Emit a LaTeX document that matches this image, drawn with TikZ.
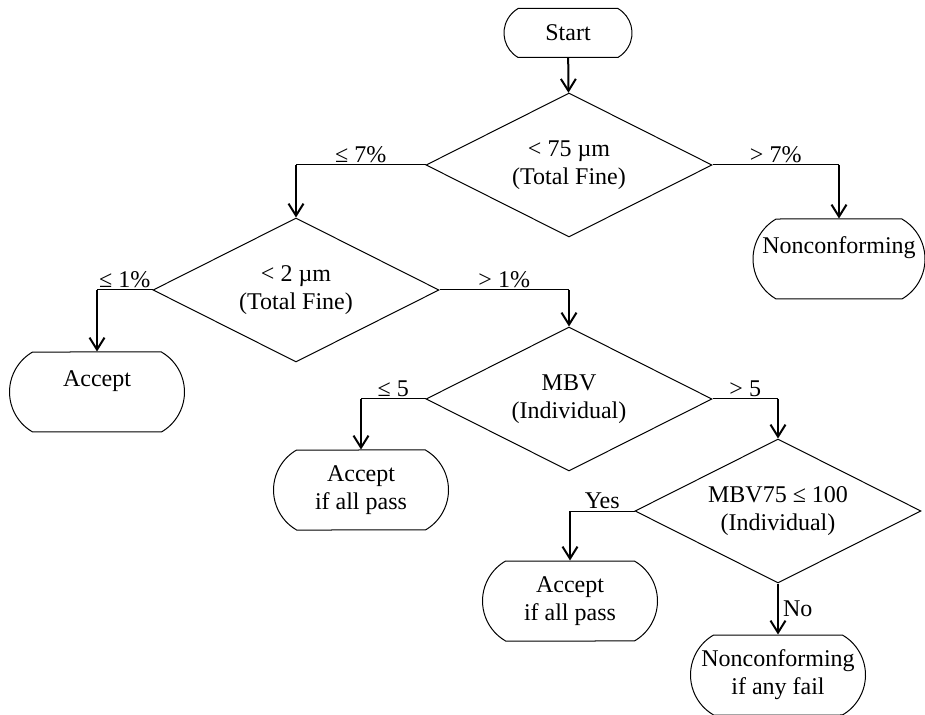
\documentclass[tikz,border=0pt]{standalone}
\usepackage{fontspec}
\setmainfont{Liberation Serif}
\usetikzlibrary{shapes.geometric}
\usetikzlibrary{shapes.misc}
\usetikzlibrary{arrows.meta}

\begin{document}
\begin{tikzpicture}
[x=0.5pt,y=-0.5pt,%
  every node/.style={font=\fontsize{12}{14}\selectfont},%
  decision/.style={shape=diamond,draw,line width=0.5pt,align=center,inner sep=0pt,shape aspect=2,minimum width=143pt,minimum height=72pt},%
  terminal/.style={shape=rounded rectangle,rounded rectangle arc length=120,draw,line width=0.5pt,align=center,inner xsep=-5pt,minimum width=77.5pt,minimum height=40pt},%
  topline/.style={text depth=13.5pt},%
  branch/.style={-,line width=0.5pt},%
  flow/.style={-{Straight Barb[length=6pt,width=7.5pt]},line width=1pt},%
  cond/.style={inner sep=1pt}]
\useasboundingbox (0,0) rectangle (925,715);
% shapes
\node[terminal,minimum width=54pt,minimum height=24.5pt] (start) at (568,33) {Start};
\node[decision] (fine75) at (569,165) {< 75 µm\\(Total Fine)};
\node[decision] (fine2) at (296,290) {< 2 µm\\(Total Fine)};
\node[terminal,topline] (accept) at (97,392) {Accept};
\node[terminal,topline,minimum width=76pt] (reject) at (839,259) {Nonconforming};
\node[decision] (mbv) at (569,399) {MBV\\(Individual)};
\node[terminal] (acceptall) at (361,490) {Accept\\if all pass};
\node[decision] (mbvhigh) at (778,511) {MBV75 ≤ 100\\(Individual)};
\node[terminal] (acceptallb) at (570,601) {Accept\\if all pass};
\node[terminal] (rejectany) at (778,675) {Nonconforming\\if any fail};
% connectors
\draw[flow] (start) -- (fine75);
\draw[branch] (fine75.west) -- node[cond,above] {≤ 7\%} (fine75.west -| fine2.north);
\draw[flow] (fine75.west -| fine2.north) -- (fine2.north);
\draw[branch] (fine75.east) -- node[cond,above] {> 7\%} (fine75.east -| reject.north);
\draw[flow] (fine75.east -| reject.north) -- (reject.north);
\draw[branch] (fine2.west) -- node[cond,above] {≤ 1\%} (fine2.west -| accept.north);
\draw[flow] (fine2.west -| accept.north) -- (accept.north);
\draw[branch] (fine2.east) -- node[cond,above] {> 1\%} (fine2.east -| mbv.north);
\draw[flow] (fine2.east -| mbv.north) -- (mbv.north);
\draw[branch] (mbv.west) -- node[cond,above] {≤ 5} (mbv.west -| acceptall.north);
\draw[flow] (mbv.west -| acceptall.north) -- (acceptall.north);
\draw[branch] (mbv.east) -- node[cond,above] {> 5} (mbv.east -| mbvhigh.north);
\draw[flow] (mbv.east -| mbvhigh.north) -- (mbvhigh.north);
\draw[branch] (mbvhigh.west) -- node[cond,above] {Yes} (mbvhigh.west -| acceptallb.north);
\draw[flow] (mbvhigh.west -| acceptallb.north) -- (acceptallb.north);
\draw[flow] (mbvhigh.south) -- node[cond,right,inner sep=2pt] {No} (rejectany.north);
\end{tikzpicture}
\end{document}
